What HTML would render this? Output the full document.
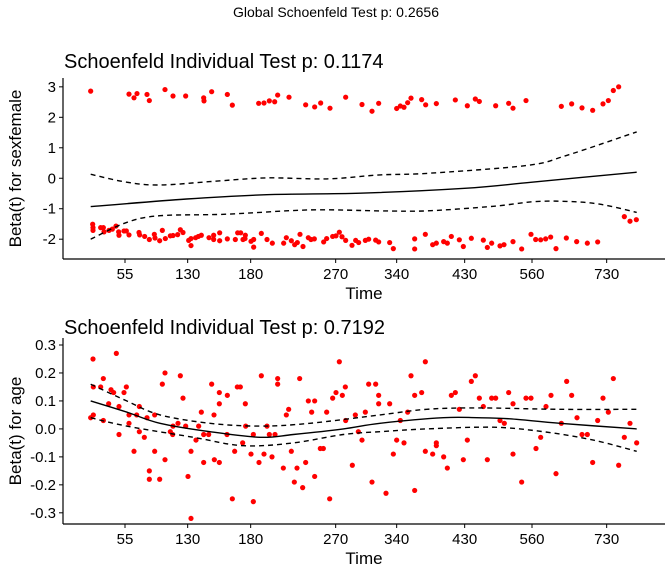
<!DOCTYPE html>
<html><head><meta charset="utf-8"><style>
body{margin:0;background:#fff;}
svg text{font-family:"Liberation Sans",Arial,sans-serif;fill:#000;}
</style></head><body>
<svg id="chart" width="672" height="576" viewBox="0 0 672 576" xmlns="http://www.w3.org/2000/svg">
<text x="336" y="17" text-anchor="middle" font-size="14">Global Schoenfeld Test p: 0.2656</text>
<text x="64" y="68" font-size="20">Schoenfeld Individual Test p: 0.1174</text>
<text x="64" y="334" font-size="20">Schoenfeld Individual Test p: 0.7192</text>
<g id="p1"></g>
<g id="p2"></g>
</svg>
<script>
// transformed time axis (km-scaled)
const xTickLabels = ["55","130","180","270","340","430","560","730"];
const xTickVals = [195,383,572,827,1010,1214,1416,1640];
// panel 1: sexfemale
const sexX = [92,207,222,231,261,268,315,339,377,431,432,455,502,517,596,612,628,644,653,687,737,764,782,810,857,906,936,956,
1010,1021,1032,1043,1053,1085,1097,1129,1186,1222,1246,1258,1307,1346,1359,1398,1504,1535,1566,1598,1629,1645,1660,1676,
98,99,99,122,130,132,147,157,168,177,176,192,199,207,237,239,254,268,283,285,299,307,316,331,339,353,361,369,386,393,393,407,415,424,447,461,461,479,479,502,526,533,542,556,549,555,573,581,581,604,621,637,671,679,694,704,712,720,729,745,753,763,791,800,818,828,838,846,857,876,887,896,916,926,947,956,
989,1000,1064,1064,1096,1118,1129,1151,1162,1174,1198,1210,1234,1270,1282,1295,1320,1332,1359,1385,1413,1427,1442,1457,1472,1488,1519,1550,1582,1613,1693,1710,1729];
const sexY = [2.86,2.76,2.64,2.78,2.75,2.55,2.91,2.70,2.70,2.64,2.54,2.84,2.75,2.40,2.46,2.47,2.54,2.51,2.73,2.66,2.41,2.34,2.47,2.30,2.66,2.42,2.20,2.46,
2.29,2.37,2.33,2.48,2.63,2.58,2.41,2.45,2.57,2.38,2.60,2.52,2.38,2.46,2.30,2.55,2.36,2.44,2.31,2.23,2.44,2.55,2.88,3.00,
-1.51,-1.62,-1.71,-1.62,-1.62,-1.76,-1.71,-1.67,-1.57,-1.87,-1.76,-1.73,-1.73,-1.86,-1.78,-1.86,-1.91,-2.01,-1.84,-1.96,-2.05,-1.71,-1.98,-1.89,-1.88,-1.85,-1.69,-1.78,-2.04,-1.98,-2.21,-1.95,-1.91,-1.87,-1.95,-1.87,-2.01,-1.79,-2.05,-1.99,-2.01,-1.79,-1.79,-1.87,-2.01,-1.98,-2.07,-2.01,-2.26,-1.81,-2.01,-2.13,-2.13,-1.95,-2.05,-2.18,-2.11,-1.84,-2.24,-1.95,-2.01,-1.99,-2.09,-1.98,-1.91,-1.89,-1.77,-1.92,-2.04,-2.20,-2.04,-2.11,-2.04,-2.00,-2.03,-2.09,
-2.11,-2.31,-1.99,-2.32,-1.84,-2.18,-2.13,-2.08,-2.13,-1.91,-2.02,-2.24,-1.97,-2.03,-2.27,-2.13,-2.22,-2.18,-2.08,-2.32,-1.84,-2.01,-2.02,-1.99,-1.93,-2.31,-1.96,-2.08,-2.13,-2.09,-1.26,-1.41,-1.36];
const sexFitX = [92,380,620,900,1214,1416,1730];
const sexFit = [-0.93,-0.68,-0.54,-0.49,-0.33,-0.13,0.20];
const sexUpX = [92,200,300,450,620,800,960,1100,1400,1520,1730];
const sexUp = [0.13,-0.13,-0.22,-0.11,0.01,-0.02,0.11,0.16,0.42,0.75,1.52];
const sexLoX = [92,200,300,500,750,960,1100,1300,1420,1520,1620,1730];
const sexLo = [-2.00,-1.45,-1.23,-1.18,-1.04,-1.07,-1.07,-0.92,-0.77,-0.76,-0.85,-1.12];
const sexYTicks = [-2,-1,0,1,2,3];
// panel 2: age
const ageX = [92,99,100,100,122,130,130,146,153,161,169,177,177,192,199,207,207,222,230,238,238,253,261,268,268,284,284,299,307,315,315,331,338,339,354,361,369,377,384,393,393,408,416,424,431,431,446,455,462,463,478,478,478,502,501,517,524,532,541,548,556,557,573,580,580,597,604,612,621,628,636,645,653,653,670,679,686,694,703,711,719,728,737,745,755,764,764,781,790,800,809,818,828,838,847,856,857,877,886,895,906,916,936,926,947,956,956,
978,989,1000,1010,1021,1032,1043,1053,1064,1064,1085,1096,1096,1118,1129,1129,1151,1162,1174,1186,1198,1210,1222,1234,1246,1258,1270,1282,1295,1307,1320,1333,1346,1359,1359,1385,1398,1413,1428,1442,1458,1473,1488,1504,1520,1535,1551,1566,1582,1598,1613,1629,1645,1660,1676,1693,1710,1730];
const ageY = [0.04,0.25,0.15,0.05,0.15,0.18,0.03,0.09,0.14,0.13,0.27,0.08,-0.02,0.13,0.15,0.02,0.05,-0.08,0.05,0.08,-0.01,-0.03,0.04,-0.15,-0.18,-0.08,0.05,-0.18,0.16,0.20,-0.11,-0.01,-0.02,0.01,0.02,0.19,0.11,0.01,-0.17,-0.08,-0.32,-0.04,0.01,0.06,-0.12,-0.02,-0.02,0.16,0.05,-0.11,0.13,0.09,-0.12,0.12,-0.02,-0.25,-0.08,0.15,0.15,-0.05,0.09,0.01,-0.09,-0.02,-0.26,-0.12,0.19,-0.09,0.01,-0.02,-0.10,-0.02,0.18,0.16,-0.14,0.05,0.07,-0.08,-0.19,-0.14,0.18,-0.21,-0.12,0.10,0.06,0.10,-0.17,-0.07,-0.07,0.06,-0.25,0.11,0.13,0.24,0.12,0.15,0.03,-0.13,0.05,-0.01,-0.04,0.06,-0.19,0.16,0.16,0.12,0.09,
-0.23,0.09,-0.09,-0.04,0.03,-0.05,0.06,0.19,0.12,-0.22,0.13,0.24,-0.08,-0.09,-0.05,-0.06,-0.10,-0.14,0.12,0.13,0.07,-0.11,-0.04,0.17,0.19,0.11,0.08,-0.11,0.11,0.11,0.03,0.02,0.13,0.09,-0.09,-0.19,0.11,0.11,-0.07,-0.03,0.08,0.12,-0.16,0.02,0.17,0.12,0.04,-0.02,-0.02,-0.12,0.03,0.11,0.06,0.18,-0.13,-0.03,0.02,-0.05];
const ageFitX = [92,200,300,450,600,700,850,960,1150,1250,1350,1500,1730];
const ageFit = [0.10,0.06,0.02,-0.01,-0.03,-0.02,0.00,0.02,0.04,0.04,0.036,0.02,0.00];
const ageUpX = [92,200,300,450,600,750,960,1100,1250,1500,1730];
const ageUp = [0.16,0.10,0.05,0.02,0.01,0.02,0.05,0.07,0.075,0.07,0.07];
const ageLoX = [92,200,400,550,700,850,960,1100,1300,1450,1600,1730];
const ageLo = [0.04,0.01,-0.03,-0.06,-0.05,-0.02,-0.01,0.00,0.006,-0.01,-0.04,-0.08];
const ageYTicks = [-0.3,-0.2,-0.1,0.0,0.1,0.2,0.3];

const NS="http://www.w3.org/2000/svg";
function mk(parent,tag,attrs){const e=document.createElementNS(NS,tag);for(const k in attrs)e.setAttribute(k,attrs[k]);parent.appendChild(e);return e;}

function smoothPath(pts){
  let d='M'+pts[0][0].toFixed(1)+','+pts[0][1].toFixed(1);
  for(let i=0;i<pts.length-1;i++){
    const p0=pts[Math.max(0,i-1)],p1=pts[i],p2=pts[i+1],p3=pts[Math.min(pts.length-1,i+2)];
    const c1x=p1[0]+(p2[0]-p0[0])/6,c1y=p1[1]+(p2[1]-p0[1])/6;
    const c2x=p2[0]-(p3[0]-p1[0])/6,c2y=p2[1]-(p3[1]-p1[1])/6;
    d+='C'+c1x.toFixed(1)+','+c1y.toFixed(1)+' '+c2x.toFixed(1)+','+c2y.toFixed(1)+' '+p2[0].toFixed(1)+','+p2[1].toFixed(1);
  }
  return d;
}

function panel(g,cfg){
  const L=63,R=665,T=cfg.top,B=cfg.bottom;
  const X=v=>60+v*(605/1815);
  const Y=v=>B-(v-cfg.ymin)/(cfg.ymax-cfg.ymin)*(B-T);
  for(let i=0;i<cfg.px.length;i++){
    const c=mk(g,'circle',{cx:X(cfg.px[i]),cy:Y(cfg.py[i]),r:2.6,fill:'#ff0000'});
    
    
  }
  const line=(xs,ys,dash,name)=>{
    const pts=xs.map((x,i)=>[X(x),Y(ys[i])]);
    const p=mk(g,'path',{d:smoothPath(pts),fill:'none',stroke:'#000','stroke-width':1.4,'stroke-dasharray':dash?'5,4':'none'});
    
    
  };
  line(cfg.fx,cfg.fy,false,'fit-line');
  line(cfg.ux,cfg.uy,true,'upper-ci-line');
  line(cfg.lx,cfg.ly,true,'lower-ci-line');
  const xa=mk(g,'line',{x1:L,y1:B,x2:R,y2:B,stroke:'#000','stroke-width':1.2});
  
  
  const ya=mk(g,'line',{x1:L,y1:T,x2:L,y2:B,stroke:'#000','stroke-width':1.2});
  
  
  xTickVals.forEach((v,i)=>{
    mk(g,'line',{x1:X(v),y1:B,x2:X(v),y2:B+4,stroke:'#000','stroke-width':1});
    const t=mk(g,'text',{x:X(v),y:B+20,'text-anchor':'middle','font-size':15});
    t.textContent=xTickLabels[i];
    
    
  });
  cfg.yt.forEach(v=>{
    mk(g,'line',{x1:L-4,y1:Y(v),x2:L,y2:Y(v),stroke:'#000','stroke-width':1});
    const t=mk(g,'text',{x:L-7,y:Y(v)+5,'text-anchor':'end','font-size':15});
    t.textContent=cfg.fmt(v);
    
    
  });
  const xt=mk(g,'text',{x:364,y:B+40,'text-anchor':'middle','font-size':17});
  xt.textContent='Time';
  
  
  const yy=(T+B)/2;
  const yt=mk(g,'text',{x:0,y:0,'text-anchor':'middle','font-size':17,transform:'translate(21,'+yy+') rotate(-90)'});
  yt.textContent=cfg.ytitle;
  
  
}
panel(document.getElementById('p1'),{top:78,bottom:259,ymin:-2.65,ymax:3.29,px:sexX,py:sexY,fx:sexFitX,fy:sexFit,ux:sexUpX,uy:sexUp,lx:sexLoX,ly:sexLo,yt:sexYTicks,fmt:v=>String(v),ytitle:'Beta(t) for sexfemale'});
panel(document.getElementById('p2'),{top:338,bottom:524,ymin:-0.34,ymax:0.325,px:ageX,py:ageY,fx:ageFitX,fy:ageFit,ux:ageUpX,uy:ageUp,lx:ageLoX,ly:ageLo,yt:ageYTicks,fmt:v=>v.toFixed(1),ytitle:'Beta(t) for age'});
</script>
</body></html>
